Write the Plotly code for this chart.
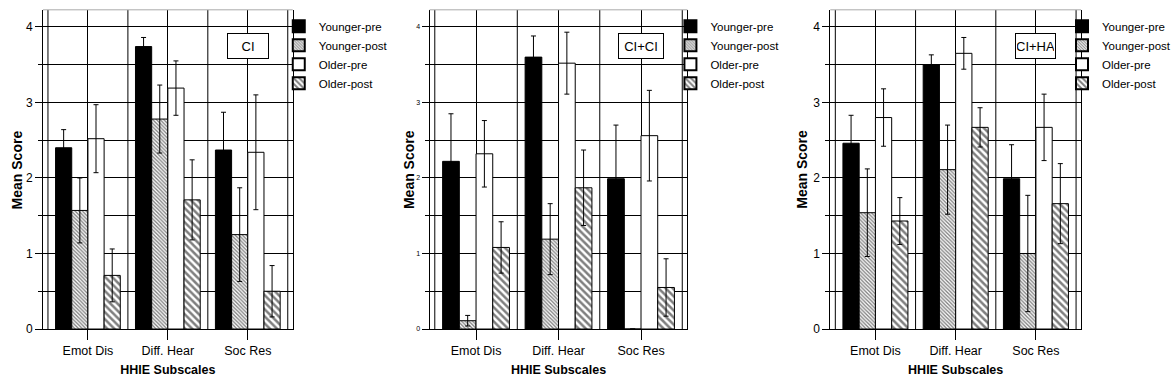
import plotly.graph_objects as go

categories = ["Emot Dis", "Diff. Hear", "Soc Res"]
series_names = ["Younger-pre", "Younger-post", "Older-pre", "Older-post"]
panel_labels = ["CI", "CI+CI", "CI+HA"]

# Panel 1: CI
ci_younger_pre = [2.40, 3.74, 2.37]
ci_younger_post = [1.57, 2.78, 1.25]
ci_older_pre = [2.52, 3.19, 2.34]
ci_older_post = [0.71, 1.71, 0.50]
ci_younger_pre_err = [0.24, 0.12, 0.50]
ci_younger_post_err = [0.43, 0.45, 0.62]
ci_older_pre_err = [0.45, 0.36, 0.76]
ci_older_post_err = [0.35, 0.53, 0.34]

# Panel 2: CI+CI
cici_younger_pre = [2.22, 3.60, 1.99]
cici_younger_post = [0.11, 1.19, 0.0]
cici_older_pre = [2.32, 3.52, 2.56]
cici_older_post = [1.08, 1.87, 0.55]
cici_younger_pre_err = [0.63, 0.28, 0.71]
cici_younger_post_err = [0.07, 0.47, 0.0]
cici_older_pre_err = [0.44, 0.41, 0.60]
cici_older_post_err = [0.34, 0.50, 0.38]

# Panel 3: CI+HA
ciha_younger_pre = [2.46, 3.50, 1.99]
ciha_younger_post = [1.54, 2.11, 1.00]
ciha_older_pre = [2.80, 3.65, 2.67]
ciha_older_post = [1.43, 2.67, 1.66]
ciha_younger_pre_err = [0.37, 0.13, 0.45]
ciha_younger_post_err = [0.58, 0.59, 0.77]
ciha_older_pre_err = [0.38, 0.21, 0.44]
ciha_older_post_err = [0.31, 0.26, 0.53]

panels = [
    ([ci_younger_pre, ci_younger_post, ci_older_pre, ci_older_post],
     [ci_younger_pre_err, ci_younger_post_err, ci_older_pre_err, ci_older_post_err]),
    ([cici_younger_pre, cici_younger_post, cici_older_pre, cici_older_post],
     [cici_younger_pre_err, cici_younger_post_err, cici_older_pre_err, cici_older_post_err]),
    ([ciha_younger_pre, ciha_younger_post, ciha_older_pre, ciha_older_post],
     [ciha_younger_pre_err, ciha_younger_post_err, ciha_older_pre_err, ciha_older_post_err]),
]

W, H = 1176, 392
FONT = "Liberation Sans, Arial, Helvetica, sans-serif"

# pixel layout
x_domains_px = [(43, 293), (430, 688), (831, 1082)]
plot_top_px, plot_bottom_px = 10, 335
legend_x_px = [279, 671, 1063]
legend_font_size = 11.5
ytitle_x_px = [17, 410, 803]
ytick_sizes = [12, 7, 12]
label_widths = [38, 42, 37]
XRANGE = [-0.5625, 2.5625]
YRANGE = [0, (plot_bottom_px - plot_top_px) / 76.9]

styles = [
    dict(color="black", pattern=None),
    dict(color="white", pattern=dict(shape="\\", size=2.6, solidity=0.5, fgcolor="black", bgcolor="white")),
    dict(color="white", pattern=None),
    dict(color="white", pattern=dict(shape="\\", size=5, solidity=0.5, fgcolor="black", bgcolor="white")),
]

fig = go.Figure()
y_dom = [1 - plot_bottom_px / H, 1 - plot_top_px / H]

for p, (vals, errs) in enumerate(panels):
    ax = "" if p == 0 else str(p + 1)
    leg = "legend" if p == 0 else f"legend{p + 1}"
    for s, name in enumerate(series_names):
        st = styles[s]
        marker = dict(color=st["color"], line=dict(color="black", width=1))
        if st["pattern"]:
            marker["pattern"] = st["pattern"]
        fig.add_trace(go.Bar(
            x=categories, y=vals[s], name=name,
            marker=marker,
            error_y=dict(type="data", array=errs[s], visible=True,
                         color="black", thickness=1, width=2.5),
            xaxis="x" + ax, yaxis="y" + ax, legend=leg,
            showlegend=True,
        ))
    d0, d1 = x_domains_px[p]
    fig.layout["xaxis" + ax] = dict(
        domain=[d0 / W, d1 / W], range=XRANGE, anchor="y" + ax,
        showline=True, linecolor="black", linewidth=1,
        showgrid=True, gridcolor="black", gridwidth=1,
        ticks="outside", ticklen=10, tickcolor="black", tickwidth=1,
        tickfont=dict(family=FONT, size=12.5, color="black"),
        title=dict(text="<b>HHIE Subscales</b>",
                   font=dict(family=FONT, size=12.5, color="black"), standoff=8),
        zeroline=False, fixedrange=True,
    )
    fig.layout["yaxis" + ax] = dict(
        domain=y_dom, range=YRANGE, anchor="x" + ax,
        showline=True, mirror=True, linecolor="black", linewidth=1,
        showgrid=True, gridcolor="black", gridwidth=1,
        tickmode="linear", tick0=0, dtick=1,
        ticks="outside", ticklen=7, tickcolor="black",
        tickfont=dict(family=FONT, size=ytick_sizes[p], color="black"),
        minor=dict(dtick=0.5, showgrid=True, gridcolor="black", gridwidth=1,
                   ticks="outside", ticklen=4, tickcolor="black"),
        zeroline=False, fixedrange=True,
    )
    # category boundary lines
    for b in [-0.5, 0.5, 1.5, 2.5]:
        fig.add_shape(type="line", xref="x" + ax, yref="y" + ax,
                      x0=b, x1=b, y0=0, y1=YRANGE[1],
                      line=dict(color="black", width=1), layer="below")
    # grey top line
    fig.add_shape(type="line", xref="x" + ax + " domain", yref="y" + ax + " domain",
                  x0=0, x1=1, y0=1, y1=1, line=dict(color="#aaaaaa", width=1))
    # panel label box
    fig.add_annotation(
        x=2.0, y=3.745, xref="x" + ax, yref="y" + ax,
        text=panel_labels[p], showarrow=False,
        font=dict(family=FONT, size=13, color="black"),
        bordercolor="black", borderwidth=1, borderpad=1,
        bgcolor="white", width=label_widths[p], height=22,
    )
    # y title
    fig.add_annotation(
        x=ytitle_x_px[p] / W, y=(1 - ((plot_top_px + plot_bottom_px) / 2) / H),
        xref="paper", yref="paper", text="<b>Mean Score</b>", textangle=-90,
        showarrow=False, font=dict(family=FONT, size=14, color="black"),
        xanchor="center", yanchor="middle",
    )
    fig.layout[leg] = dict(
        x=legend_x_px[p] / W, y=1 - 12 / H, xanchor="left", yanchor="top",
        bgcolor="rgba(0,0,0,0)", borderwidth=0,
        font=dict(family=FONT, size=legend_font_size, color="black"),
        tracegroupgap=0, itemsizing="constant",
    )

fig.update_layout(
    width=W, height=H, autosize=False, margin=dict(l=0, r=0, t=0, b=0),
    paper_bgcolor="white", plot_bgcolor="white",
    barmode="group", bargap=0.19, bargroupgap=0,
)

post = (
    "document.documentElement.style.margin='0';"
    "document.body.style.margin='0';"
    "document.body.style.overflow='hidden';"
    "var gd=document.getElementById('{plot_id}');"
    "Plotly.relayout(gd,{width:%d,height:%d});" % (W, H)
)

fig.write_html(
    "out.html",
    default_width="%dpx" % W, default_height="%dpx" % H,
    config={"displayModeBar": False, "responsive": False},
    post_script=post,
)
